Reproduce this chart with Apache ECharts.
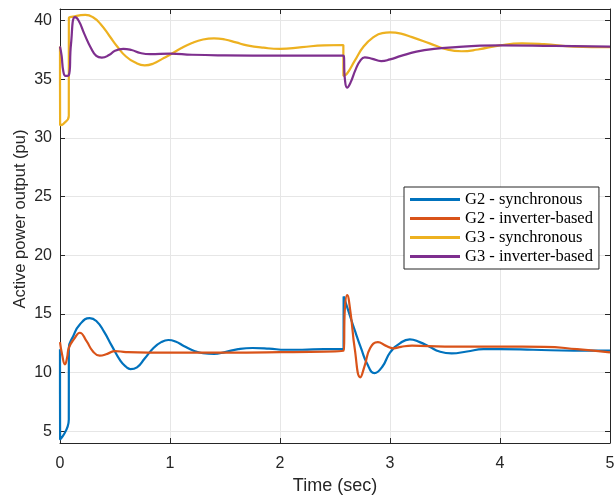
<!DOCTYPE html>
<html>
<head>
<meta charset="utf-8">
<script src="https://cdn.jsdelivr.net/npm/echarts@6/dist/echarts.min.js"></script>
<style>
html,body{margin:0;padding:0;background:#fff;}
#chart{width:614px;height:495px;}
</style>
</head>
<body>
<div id="chart"></div>
<script>
// ---- data ----
var seriesNames = ['G2 - synchronous', 'G2 - inverter-based', 'G3 - synchronous', 'G3 - inverter-based'];
var xTicks = [0, 1, 2, 3, 4, 5];
var yTicks = [5, 10, 15, 20, 25, 30, 35, 40];

var g2SyncT = [0, 0.001, 0.08, 0.0805, 0.12, 0.18, 0.27, 0.33, 0.4, 0.47, 0.55, 0.6, 0.64, 0.7, 0.77, 0.85, 0.92, 0.985, 1.05, 1.13, 1.22, 1.3, 1.4, 1.5, 1.62, 1.75, 1.9, 2.05, 2.2, 2.4, 2.578, 2.5785, 2.62, 2.68, 2.74, 2.79, 2.86, 2.93, 3.0, 3.09, 3.18, 3.27, 3.36, 3.45, 3.56, 3.7, 3.85, 4.0, 4.3, 4.67, 5.0];
var g2SyncV = [12.0, 4.3, 6.0, 12.1, 13.1, 14.1, 14.65, 14.4, 13.5, 12.3, 11.0, 10.5, 10.3, 10.45, 11.2, 12.1, 12.6, 12.78, 12.65, 12.25, 11.85, 11.65, 11.6, 11.75, 12.0, 12.1, 12.05, 11.95, 11.95, 12.0, 12.0, 16.5, 15.3, 13.6, 12.0, 10.8, 9.95, 10.5, 11.7, 12.5, 12.84, 12.6, 12.2, 11.8, 11.64, 11.8, 12.0, 12.0, 11.95, 11.87, 11.87];

var g2InvT = [0, 0.02, 0.045, 0.065, 0.08, 0.13, 0.18, 0.24, 0.3, 0.36, 0.43, 0.5, 0.6, 0.8, 1.5, 2.0, 2.578, 2.59, 2.61, 2.64, 2.68, 2.73, 2.77, 2.82, 2.89, 2.96, 3.03, 3.1, 3.2, 3.5, 4.0, 4.4, 4.7, 5.0];
var g2InvV = [12.6, 11.5, 10.7, 11.3, 12.1, 12.9, 13.4, 12.7, 11.8, 11.45, 11.6, 11.84, 11.75, 11.7, 11.7, 11.75, 11.87, 15.5, 16.6, 15.2, 12.0, 9.6, 10.6, 12.1, 12.6, 12.3, 12.07, 12.2, 12.3, 12.22, 12.22, 12.2, 12.0, 11.72];

var g3SyncT = [0, 0.001, 0.03, 0.08, 0.0805, 0.12, 0.23, 0.3, 0.37, 0.45, 0.52, 0.6, 0.68, 0.77, 0.85, 0.93, 1.0, 1.1, 1.2, 1.3, 1.4, 1.5, 1.6, 1.7, 1.85, 2.0, 2.2, 2.4, 2.576, 2.5765, 2.61, 2.68, 2.76, 2.85, 2.93, 3.0, 3.1, 3.2, 3.36, 3.5, 3.65, 3.8, 4.0, 4.2, 4.4, 4.67, 5.0];
var g3SyncV = [37.8, 31.1, 31.2, 31.9, 40.2, 40.35, 40.5, 40.3, 39.7, 38.7, 37.8, 36.95, 36.45, 36.2, 36.35, 36.75, 37.1, 37.65, 38.1, 38.4, 38.5, 38.4, 38.15, 37.9, 37.7, 37.6, 37.75, 37.9, 37.93, 35.3, 35.5, 36.6, 37.8, 38.6, 38.95, 39.0, 38.9, 38.6, 38.07, 37.6, 37.4, 37.55, 37.9, 38.07, 38.0, 37.8, 37.75];

var g3InvT = [0, 0.015, 0.03, 0.05, 0.08, 0.1, 0.136, 0.17, 0.22, 0.28, 0.33, 0.38, 0.45, 0.5, 0.576, 0.65, 0.73, 0.82, 1.0, 1.2, 1.5, 2.0, 2.576, 2.59, 2.61, 2.64, 2.69, 2.73, 2.77, 2.84, 2.92, 3.0, 3.1, 3.24, 3.4, 3.6, 3.82, 4.0, 4.5, 5.0];
var g3InvV = [37.8, 37.0, 35.7, 35.3, 35.35, 38.0, 40.3, 40.0, 38.9, 37.7, 37.0, 36.85, 37.1, 37.45, 37.6, 37.5, 37.25, 37.15, 37.2, 37.1, 37.05, 37.03, 37.03, 35.0, 34.3, 34.7, 35.9, 36.6, 36.88, 36.75, 36.56, 36.7, 37.0, 37.36, 37.6, 37.75, 37.87, 37.9, 37.85, 37.8];

var colors = ['#0072BD', '#D95319', '#EDB120', '#7E2F8E'];

function pairs(t, v) { return t.map(function (x, i) { return [x, v[i]]; }); }
var seriesData = [pairs(g2SyncT, g2SyncV), pairs(g2InvT, g2InvV), pairs(g3SyncT, g3SyncV), pairs(g3InvT, g3InvV)];

var axisColor = '#262626';
var sans = 'Liberation Sans, Arial, sans-serif';

var chart = echarts.init(document.getElementById('chart'), null, { renderer: 'canvas' });
var option = {
  animation: false,
  color: colors,
  grid: { left: 60, right: 4, top: 9, bottom: 52, outerBoundsMode: 'none', containLabel: false },
  legend: {
    orient: 'vertical',
    left: 404, top: 187,
    padding: [4, 6, 4, 6],
    itemGap: 2,
    itemWidth: 50, itemHeight: 3,
    itemTextGap: 5,
    icon: 'rect',
    backgroundColor: '#fff',
    borderColor: axisColor, borderWidth: 1,
    textStyle: { fontFamily: 'Liberation Serif, serif', fontSize: 16.5, color: '#000', lineHeight: 16 },
    data: seriesNames
  },
  xAxis: [{
    type: 'value', min: 0, max: 5, interval: 1, position: 'bottom',
    name: 'Time (sec)', nameLocation: 'middle', nameGap: 34, nameMoveOverlap: false,
    nameTextStyle: { fontFamily: sans, fontSize: 18, color: axisColor },
    axisLine: { show: true, lineStyle: { color: axisColor, width: 1 } },
    axisTick: { show: true, inside: true, length: 5, lineStyle: { color: axisColor } },
    axisLabel: { margin: 13, fontFamily: sans, fontSize: 16, color: axisColor, formatter: function (v) { return xTicks.indexOf(v) >= 0 ? String(v) : ''; } },
    splitLine: { show: true, lineStyle: { color: '#e6e6e6', width: 1 } }
  }, {
    type: 'value', min: 0, max: 5, interval: 1, position: 'top',
    axisLine: { show: true, onZero: false, lineStyle: { color: axisColor, width: 1 } },
    axisTick: { show: true, inside: true, length: 5, lineStyle: { color: axisColor } },
    axisLabel: { show: false }, splitLine: { show: false }
  }],
  yAxis: [{
    type: 'value', min: 4, max: 41, position: 'left',
    name: 'Active power output (pu)', nameLocation: 'middle', nameGap: 31, nameMoveOverlap: false,
    nameTextStyle: { fontFamily: sans, fontSize: 16.5, color: axisColor, padding: [0, 0, 0, 14] },
    axisLine: { show: true, onZero: false, lineStyle: { color: axisColor, width: 1 } },
    axisTick: { show: true, inside: true, length: 5, lineStyle: { color: axisColor }, customValues: yTicks },
    axisLabel: { margin: 8, fontFamily: sans, fontSize: 16, color: axisColor, customValues: yTicks },
    splitLine: { show: true, lineStyle: { color: '#e6e6e6', width: 1 } }
  }, {
    type: 'value', min: 4, max: 41, position: 'right',
    axisLine: { show: true, onZero: false, lineStyle: { color: axisColor, width: 1 } },
    axisTick: { show: true, inside: true, length: 5, lineStyle: { color: axisColor }, customValues: yTicks },
    axisLabel: { show: false }, splitLine: { show: false }
  }],
  series: seriesNames.map(function (n, i) {
    return {
      name: n, type: 'line', data: seriesData[i],
      xAxisIndex: 0, yAxisIndex: 0,
      showSymbol: false, symbol: 'none',
      smooth: 0.5,
      lineStyle: { width: 2.2, color: colors[i] },
      itemStyle: { color: colors[i] }
    };
  })
};
chart.setOption(option);
</script>
</body>
</html>
